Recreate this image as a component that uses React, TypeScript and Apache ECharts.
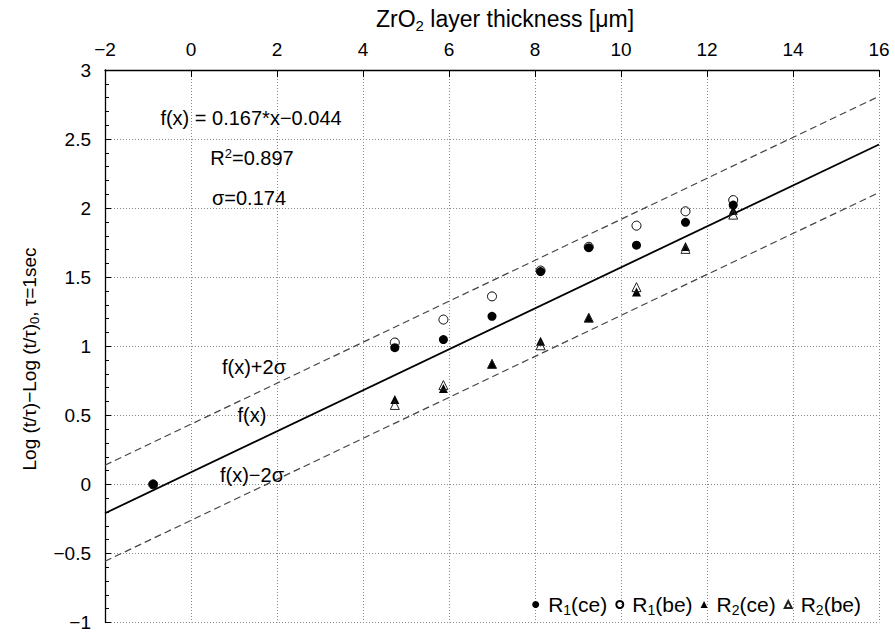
import React, { useEffect, useRef } from 'react';
import * as echarts from 'echarts';

// ---- data ----
const thickness = [-0.88, 4.74, 5.87, 7.0, 8.13, 9.25, 10.36, 11.5, 12.61];
const r1ce: (number | null)[] = [0.0, 0.99, 1.048, 1.217, 1.541, 1.714, 1.732, 1.897, 2.022];
const r1be: (number | null)[] = [0.0, 1.027, 1.193, 1.361, 1.548, 1.72, 1.873, 1.977, 2.058];
const r2ce: (number | null)[] = [null, 0.615, 0.695, 0.875, 1.036, 1.207, 1.392, 1.722, 1.985];
const r2be: (number | null)[] = [null, 0.575, 0.719, 0.872, 1.007, 1.207, 1.428, 1.705, 1.953];

const lineX = [-2, 16];
const fitY = [-0.209, 2.461];
const upperY = [0.139, 2.809];
const lowerY = [-0.557, 2.113];

const seriesNames = ['R1(ce)', 'R1(be)', 'R2(ce)', 'R2(be)'];
const legendLabels: Record<string, [string, string, string]> = {
  'R1(ce)': ['R', '1', '(ce)'],
  'R1(be)': ['R', '1', '(be)'],
  'R2(ce)': ['R', '2', '(ce)'],
  'R2(be)': ['R', '2', '(be)'],
};

const FONT = '"Liberation Sans", Arial, Helvetica, sans-serif';

const pairs = (xs: number[], ys: (number | null)[]) =>
  xs.map((x, i) => [x, ys[i]]).filter((p) => p[1] !== null);

const fmtMinus = (v: number) => String(v).replace('-', '\u2212');

export default function App() {
  const ref = useRef<HTMLDivElement>(null);
  useEffect(() => {
    document.body.style.margin = '0';
    if (!ref.current) return;
    const chart = echarts.init(ref.current, undefined, { renderer: 'svg' });
    const txt = (text: string, x: number, y: number, rich?: any, size = 20, rotation = 0) => ({
      type: 'text',
      x,
      y,
      rotation,
      z: 100,
      style: {
        text,
        fill: '#000',
        font: `${size}px ${FONT}`,
        align: 'center',
        verticalAlign: 'middle',
        textAlign: 'center',
        textVerticalAlign: 'middle',
        rich,
      },
    });
    const richSup = {
      a: { fontSize: 20, fontFamily: FONT, color: '#000', lineHeight: 24 },
      sup: { fontSize: 13, fontFamily: FONT, color: '#000', lineHeight: 13, padding: [0, 0, 10, 0] },
    };
    const richSub = (size: number, sub: number) => ({
      a: { fontSize: size, fontFamily: FONT, color: '#000', lineHeight: size + 4 },
      sub: { fontSize: sub, fontFamily: FONT, color: '#000', lineHeight: sub, padding: [Math.round(size * 0.55), 0, 0, 0] },
    });
    const option: any = {
      animation: false,
      backgroundColor: '#fff',
      textStyle: { fontFamily: FONT },
      grid: { left: 105, right: 16, top: 70, bottom: 7, containLabel: false },
      xAxis: {
        type: 'value',
        position: 'top',
        min: -2,
        max: 16,
        interval: 2,
        axisLine: { show: true, onZero: false, lineStyle: { color: '#000', width: 1.3 } },
        axisTick: { show: true, inside: true, length: 7, lineStyle: { color: '#000', width: 1 } },
        axisLabel: { fontSize: 19, color: '#000', margin: 11, fontFamily: FONT, formatter: fmtMinus },
        splitLine: { show: true, lineStyle: { color: '#888', type: [1, 2], width: 1 } },
      },
      yAxis: {
        type: 'value',
        position: 'left',
        min: -1,
        max: 3,
        interval: 0.5,
        axisLine: { show: true, onZero: false, lineStyle: { color: '#000', width: 1.3 } },
        axisTick: { show: true, inside: true, length: 6, lineStyle: { color: '#000', width: 1 } },
        minorTick: { show: true, splitNumber: 5, length: 4, lineStyle: { color: '#000', width: 1 } },
        axisLabel: { fontSize: 19, color: '#000', margin: 14, fontFamily: FONT, formatter: fmtMinus },
        splitLine: { show: true, lineStyle: { color: '#888', type: [1, 2], width: 1 } },
      },
      legend: {
        data: seriesNames,
        right: 34,
        top: 592,
        padding: 0,
        itemWidth: 7,
        itemHeight: 7,
        itemGap: 8,
        selectedMode: false,
        formatter: (name: string) => {
          const p = legendLabels[name];
          return `{f|${p[0]}}{sub|${p[1]}}{a|${p[2]}}`;
        },
        textStyle: {
          fontSize: 21,
          color: '#000',
          fontFamily: FONT,
          rich: {
            f: { fontSize: 21, fontFamily: FONT, color: '#000', lineHeight: 25, padding: [0, 0, 0, 4] },
            a: { fontSize: 21, fontFamily: FONT, color: '#000', lineHeight: 25 },
            sub: { fontSize: 14, fontFamily: FONT, color: '#000', lineHeight: 14, padding: [11, 0, 0, 0] },
          },
        },
      },
      series: [
        {
          name: 'fit',
          type: 'line',
          data: pairs(lineX, fitY),
          showSymbol: false,
          silent: true,
          lineStyle: { color: '#000', width: 1.8 },
          z: 2,
        },
        {
          name: 'upper',
          type: 'line',
          data: pairs(lineX, upperY),
          showSymbol: false,
          silent: true,
          lineStyle: { color: '#444', width: 1.2, type: [7, 4] },
          z: 2,
        },
        {
          name: 'lower',
          type: 'line',
          data: pairs(lineX, lowerY),
          showSymbol: false,
          silent: true,
          lineStyle: { color: '#444', width: 1.2, type: [7, 4] },
          z: 2,
        },
        {
          name: 'R1(ce)',
          type: 'scatter',
          data: pairs(thickness, r1ce),
          symbol: 'circle',
          symbolSize: 9,
          itemStyle: { color: '#000', opacity: 1 },
          z: 3,
        },
        {
          name: 'R1(be)',
          type: 'scatter',
          data: pairs(thickness, r1be),
          symbol: 'circle',
          symbolSize: 9,
          itemStyle: { color: 'rgba(255,255,255,0)', borderColor: '#000', borderWidth: 1, opacity: 1 },
          z: 4,
        },
        {
          name: 'R2(ce)',
          type: 'scatter',
          data: pairs(thickness, r2ce),
          symbol: 'triangle',
          symbolSize: 9,
          itemStyle: { color: '#000', opacity: 1 },
          z: 3,
        },
        {
          name: 'R2(be)',
          type: 'scatter',
          data: pairs(thickness, r2be),
          symbol: 'triangle',
          symbolSize: 9,
          itemStyle: { color: 'rgba(255,255,255,0)', borderColor: '#222', borderWidth: 1, opacity: 1 },
          z: 4,
        },
      ],
      graphic: [
        txt('{a|ZrO}{sub|2}{a| layer thickness [\u03bcm]}', 505, 19, richSub(23, 15), 23),
        txt('{a|Log (t/\u03c4)\u2212Log (t/\u03c4)}{sub|0}{a|, \u03c4=1sec}', 29, 359, richSub(19, 13), 19, Math.PI / 2),
        txt('f(x) = 0.167*x\u22120.044', 251, 118),
        txt('{a|R}{sup|2}{a|=0.897}', 252, 158, richSup),
        txt('\u03c3=0.174', 249, 198),
        txt('f(x)+2\u03c3', 254, 367),
        txt('f(x)', 252, 415),
        txt('f(x)\u22122\u03c3', 252, 475),
      ],
    };
    chart.setOption(option);
    return () => chart.dispose();
  }, []);
  return <div ref={ref} style={{ width: 895, height: 632 }} />;
}
